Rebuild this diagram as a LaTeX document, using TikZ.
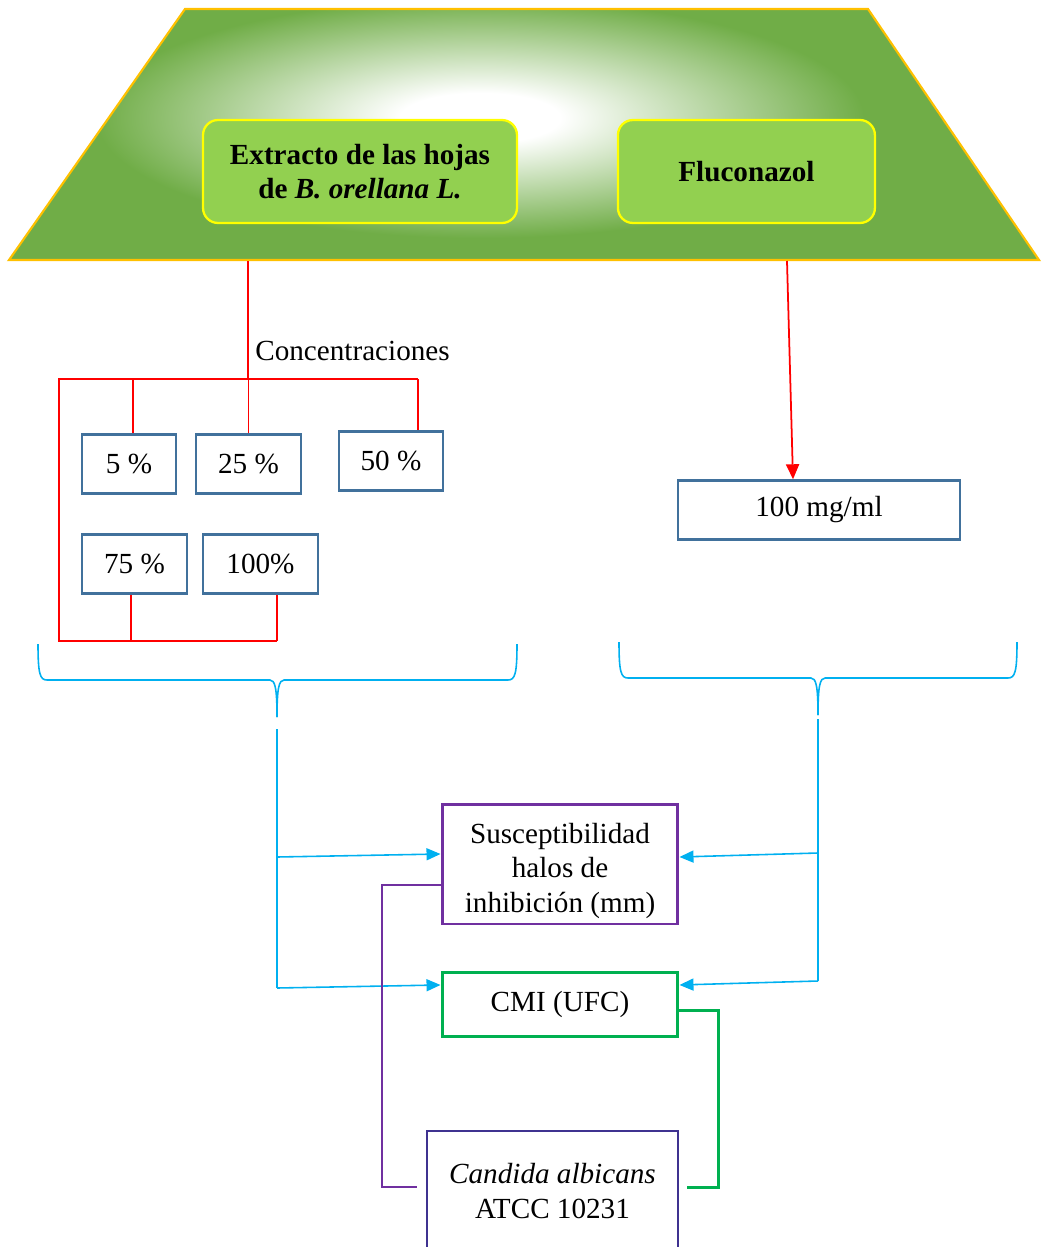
\documentclass[tikz,border=0pt]{standalone}
\usepackage{fontspec}
\setmainfont{Liberation Serif}
\usetikzlibrary{arrows.meta}

\definecolor{trapgreen}{HTML}{70AD47}
\definecolor{trapedge}{HTML}{FFC000}
\definecolor{boxgreen}{HTML}{92D050}
\definecolor{boxedge}{HTML}{FFFF00}
\definecolor{steel}{HTML}{41719C}
\definecolor{skyln}{HTML}{00B0F0}
\definecolor{violetln}{HTML}{7030A0}
\definecolor{greenln}{HTML}{00B050}
\definecolor{indigoln}{HTML}{3F3290}
\pgfdeclareradialshading{glow}{\pgfpoint{0bp}{0bp}}{color(0bp)=(white); color(5bp)=(white); color(24bp)=(trapgreen); color(50bp)=(trapgreen)}

\begin{document}
\begin{tikzpicture}[x=0.02cm, y=-0.02cm,
	every node/.style={font=\fontsize{16.6}{19.4}\selectfont, inner sep=0pt},
	topbox/.style={draw=boxedge, line width=1.3pt, fill=boxgreen, rounded corners=0.3cm, minimum height=2.06cm, align=center, font=\fontsize{16.6}{19.4}\selectfont\bfseries},
	pctbox/.style={draw=steel, line width=1.4pt, minimum height=1.18cm},
	redln/.style={red, line width=0.6pt},
	bluln/.style={skyln, line width=0.9pt},
	bluarr/.style={bluln, -{Triangle[length=0.28cm, width=0.24cm]}},
	]
		\useasboundingbox (0,0) rectangle (1042,1247);
		
		\fill[trapgreen] (185,9) -- (868,9) -- (1039,260) -- (9,260) -- cycle;
		\begin{scope}
		\clip (185,9) -- (868,9) -- (1039,260) -- (9,260) -- cycle;
		\shade[shading=glow] (480,118) ellipse [x radius=8cm, y radius=2.5cm];
		\end{scope}
		\draw[trapedge, line width=1.2pt] (185,9) -- (868,9) -- (1039,260) -- (9,260) -- cycle;
		
		\node[topbox, minimum width=6.28cm](EXT) at (360,171.5){Extracto de las hojas\\de \textit{B. orellana L.}};
		\node[topbox, right of=EXT, node distance=7.73cm, minimum width=5.14cm](FLU){Fluconazol};
		
		\node[anchor=west](CONC) at (255,351){Concentraciones};
		
		\node[pctbox, minimum width=1.88cm](C1) at (129,464){5 \%};
		\node[pctbox, right of=C1, node distance=2.39cm, minimum width=2.1cm](C2){25 \%};
		\node[pctbox, minimum width=2.08cm](C3) at (391,461){50 \%};
		\node[pctbox, minimum width=2.1cm](C4) at (134.5,564){75 \%};
		\node[pctbox, right of=C4, node distance=2.52cm, minimum width=2.3cm](C5){100\%};
		
		\node[pctbox, minimum width=5.64cm](DOSE) at (819,510){100 mg/ml};
		
		\coordinate (TRUNK) at (248,261);
		\coordinate (BARL) at (59,379);
		\coordinate (BARR) at (418,379);
		\coordinate (BOTL) at (59,641);
		\coordinate (BOTR) at (277,641);
		\draw[redln] (TRUNK) -- (TRUNK |- BARL);
		\draw[redln] (BARR) -- (BARL) -- (BOTL) -- (BOTR);
		\draw[redln] ([xshift=0.08cm]C1.north) -- ([xshift=0.08cm]C1.north |- BARL);
		\draw[redln] (C2.north) -- (C2.north |- BARL);
		\draw[redln] (BARR) -- (BARR |- C3.north);
		\draw[redln] ([xshift=-0.07cm]C4.south) -- ([xshift=-0.07cm]C4.south |- BOTL);
		\draw[redln] (BOTR) -- (BOTR |- C5.south);
		
		\coordinate (FTAIL) at (787,261);
		\draw[red, line width=1pt, -{Triangle[length=0.3cm, width=0.26cm]}] (FTAIL) -- ([xshift=-0.52cm]DOSE.north);
		
		% llaves
		\coordinate (BRL) at (277,717);
		\coordinate (BRR) at (818,715);
		\draw[bluln] (38,644) .. controls (38,674) and (40,680) .. (47,680) -- (270,680) .. controls (275,680) and (277,688) .. (BRL);
		\draw[bluln] (BRL) .. controls (277,688) and (279,680) .. (284,680) -- (508,680) .. controls (515,680) and (517,674) .. (517,644);
		\draw[bluln] (619,642) .. controls (619,672) and (621,678) .. (628,678) -- (811,678) .. controls (816,678) and (818,686) .. (BRR);
		\draw[bluln] (BRR) .. controls (818,686) and (820,678) .. (825,678) -- (1008,678) .. controls (1015,678) and (1017,672) .. (1017,642);
		
		\node[draw=violetln, line width=1.7pt, minimum width=4.72cm, minimum height=2.4cm, align=center](SUS) at (560,864){\rule{0pt}{19.4pt}Susceptibilidad\\halos de\\inhibición (mm)};
		\node[draw=greenln, line width=1.7pt, below of=SUS, node distance=2.82cm, minimum width=4.72cm, minimum height=1.28cm](CMI){CMI (UFC)};
		\node[draw=indigoln, line width=1.3pt, minimum width=5.02cm, minimum height=2.4cm, align=center](CAN) at (552.5,1191){\textit{Candida albicans}\\ATCC 10231};
		
		\coordinate (VL) at (277,729);
		\coordinate (JL1) at (277,857);
		\coordinate (JL2) at (277,988);
		\coordinate (VR) at (818,719);
		\coordinate (JR1) at (818,853);
		\coordinate (JR2) at (818,981);
		\draw[bluln] (VL) -- (JL2);
		\draw[bluln] (VR) -- (JR2);
		\draw[bluarr] (JL1) -- ([yshift=0.2cm]SUS.west);
		\draw[bluarr] (JL2) -- ([yshift=0.4cm]CMI.west);
		\draw[bluarr] (JR1) -- ([yshift=0.14cm]SUS.east);
		\draw[bluarr] (JR2) -- ([yshift=0.4cm]CMI.east);
		
		\coordinate (PC) at (382,1187);
		\coordinate (PE) at (417,1187);
		\coordinate (GC) at (718,1187);
		\coordinate (GE) at (687,1187);
		\draw[violetln, line width=1pt] ([yshift=-0.42cm]SUS.west) -| (PC) -- (PE);
		\draw[greenln, line width=1.7pt] ([yshift=-0.12cm]CMI.east) -| (GC) -- (GE);
		\end{tikzpicture}
\end{document}
